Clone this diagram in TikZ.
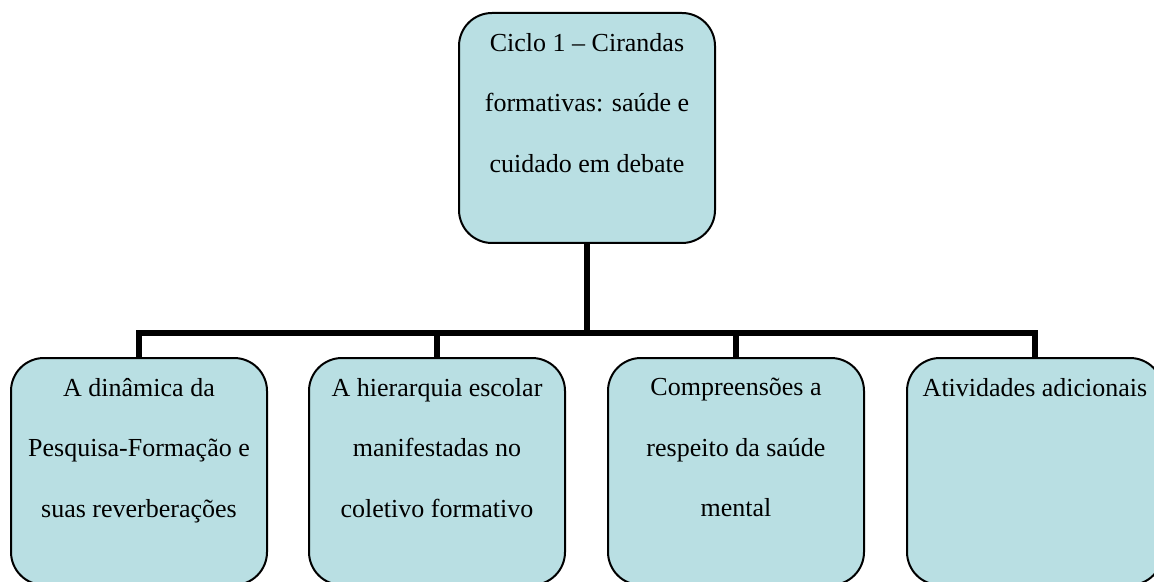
\documentclass[tikz,border=0pt]{standalone}
\usepackage{fontspec}
\setmainfont{Liberation Serif}
\definecolor{caixaazul}{RGB}{185,223,227}

\begin{document}
\begin{tikzpicture}[x=0.5pt,y=-0.5pt,
    caixa/.style={draw=black, line width=1pt, fill=caixaazul, rounded corners=16.5pt,
        minimum width=128pt, minimum height=113.5pt, inner sep=0pt, anchor=north},
    texto/.style={anchor=north, align=center, inner sep=0pt,
        font=\fontsize{13}{30.3}\selectfont},
    linha/.style={line width=3pt, line join=miter}]

    \useasboundingbox (0,0) rectangle (1154,582);

    %%% TOP BOX
    \node[caixa, minimum height=115pt] (ciclo) at (587,12) {};
    \node[texto] (ciclo-txt) at ([yshift=-10.4pt]ciclo.north)
        {Ciclo 1 -- Cirandas\\formativas: saúde e\\cuidado em debate};

    %%% BOTTOM BOXES
    \node[caixa] (dinamica) at (139,357) {};
    \node[caixa] (hierarquia) at (437,357) {};
    \node[caixa] (compreensoes) at (736,357) {};
    \node[caixa] (atividades) at (1035,357) {};

    \node[texto] (dinamica-txt) at ([yshift=-10.4pt]dinamica.north)
        {A dinâmica da\\Pesquisa-Formação e\\suas reverberações};
    \node[texto] (hierarquia-txt) at ([yshift=-10.4pt]hierarquia.north)
        {A hierarquia escolar\\manifestadas no\\coletivo formativo};
    \node[texto] (compreensoes-txt) at ([yshift=-10.4pt]compreensoes.north)
        {Compreensões a\\respeito da saúde\\mental};
    \node[texto] (atividades-txt) at ([yshift=-10.4pt]atividades.north)
        {Atividades adicionais};

    % Connectors
    \coordinate (barra) at (587,333);
    \draw[linha] (ciclo.south) -- (barra);
    \draw[linha] (dinamica.north) -- (dinamica.north |- barra)
        -- (atividades.north |- barra) -- (atividades.north);
    \foreach \n in {hierarquia, compreensoes} {
        \draw[linha] (\n.north) -- (\n.north |- barra);
        };
\end{tikzpicture}
\end{document}
